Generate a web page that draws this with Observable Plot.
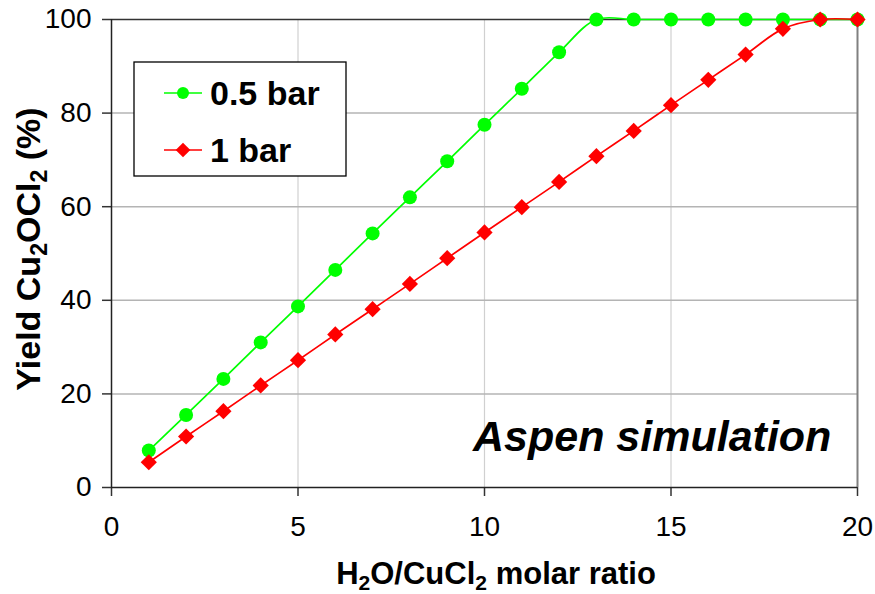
<!DOCTYPE html>
<html>
<head>
<meta charset="utf-8">
<script src="https://cdn.jsdelivr.net/npm/d3@7"></script>
<script src="https://cdn.jsdelivr.net/npm/@observablehq/plot@0.6"></script>
<style>
  body { margin: 0; background: #fff; }
  #chart svg { font-family: "Liberation Sans", Arial, sans-serif; display: block; }
</style>
</head>
<body>
<div id="chart"></div>
<script>
// H2O/CuCl2 molar ratio
const ratio = [1, 2, 3, 4, 5, 6, 7, 8, 9, 10, 11, 12, 13, 14, 15, 16, 17, 18, 19, 20];
// Cu2OCl2 yield (%) at 0.5 bar
const yieldHalfBar = [7.9, 15.5, 23.2, 31.0, 38.7, 46.5, 54.3, 62.0, 69.7, 77.5, 85.2, 93.0, 100, 100, 100, 100, 100, 100, 100, 100];
// Cu2OCl2 yield (%) at 1 bar
const yieldOneBar = [5.4, 10.9, 16.3, 21.8, 27.2, 32.7, 38.1, 43.5, 49.0, 54.5, 59.9, 65.3, 70.8, 76.2, 81.7, 87.1, 92.5, 98.0, 100, 100];

const seriesNames = ["0.5 bar", "1 bar"];
const seriesColors = ["#00ff00", "#ff0000"];
const seriesSymbols = ["circle", "diamond2"];
const xTicks = [0, 5, 10, 15, 20];
const yTicks = [0, 20, 40, 60, 80, 100];
const annotation = "Aspen simulation";

const half = ratio.map((r, i) => ({ratio: r, yield: yieldHalfBar[i]}));
const one = ratio.map((r, i) => ({ratio: r, yield: yieldOneBar[i]}));

const chart = Plot.plot({
  width: 875,
  height: 594,
  marginLeft: 111,
  marginRight: 18,
  marginTop: 19,
  marginBottom: 107,
  style: {fontFamily: "'Liberation Sans', Arial, sans-serif", fontSize: "28px", color: "#000", background: "#fff", overflow: "visible"},
  x: {domain: [0, 20], label: null},
  y: {domain: [0, 100], label: null},
  marks: [
    Plot.gridX(xTicks.slice(1, -1), {stroke: "#d0d0d0", strokeOpacity: 1, strokeWidth: 1.2}),
    Plot.gridY(yTicks.slice(1, -1), {stroke: "#b4b4b4", strokeOpacity: 1, strokeWidth: 1.5}),
    Plot.ruleY([100], {stroke: "#333", strokeWidth: 1.5}),
    Plot.ruleX([20], {stroke: "#808080", strokeWidth: 2}),
    Plot.axisX(xTicks, {tickSize: 9, tickPadding: 20, stroke: "#333", strokeWidth: 1.5, fontSize: 28, label: null}),
    Plot.axisY(yTicks, {tickSize: 9, tickPadding: 11, stroke: "#333", strokeWidth: 1.5, fontSize: 28, label: null}),
    Plot.ruleX([0], {stroke: "#222", strokeWidth: 1.5}),
    Plot.ruleY([0], {stroke: "#222", strokeWidth: 1.5}),
    Plot.text([annotation], {x: 19.3, y: 10.8, text: d => d, textAnchor: "end", lineAnchor: "middle",
      fontSize: 43, fontWeight: "bold", fontStyle: "italic", fill: "#000"}),
    Plot.line(half, {x: "ratio", y: "yield", stroke: seriesColors[0], strokeWidth: 1.7, curve: "catmull-rom"}),
    Plot.dot(half, {x: "ratio", y: "yield", r: 7, fill: seriesColors[0], symbol: seriesSymbols[0]}),
    Plot.line(one, {x: "ratio", y: "yield", stroke: seriesColors[1], strokeWidth: 1.7, curve: "catmull-rom"}),
    Plot.dot(one, {x: "ratio", y: "yield", r: 7.3, fill: seriesColors[1], symbol: seriesSymbols[1]})
  ]
});

document.getElementById("chart").append(chart);

const svg = d3.select(chart);
const xs = chart.scale("x"), ys = chart.scale("y");
const [x0, x1] = [xs.apply(0), xs.apply(20)];
const [y0, y1] = [ys.apply(0), ys.apply(100)];

// Text with subscript parts: [text, isSubscript]
function richText(sel, parts, size) {
  let shifted = false;
  for (const [t, sub] of parts) {
    const ts = sel.append("tspan").text(t);
    if (sub) {
      ts.attr("font-size", size * 0.68);
      if (!shifted) { ts.attr("dy", size * 0.2); shifted = true; }
    } else if (shifted) {
      ts.attr("dy", -size * 0.2); shifted = false;
    }
  }
}

// x-axis title
const xTitle = svg.append("text")
  .attr("x", (x0 + x1) / 2 + 12).attr("y", 584)
  .attr("text-anchor", "middle").attr("font-weight", "bold").attr("font-size", 31).attr("fill", "#000");
richText(xTitle, [["H", false], ["2", true], ["O/CuCl", false], ["2", true], [" molar ratio", false]], 31);

// y-axis title
const yTitle = svg.append("text")
  .attr("transform", `translate(40,${(y0 + y1) / 2 - 4}) rotate(-90)`)
  .attr("text-anchor", "middle").attr("font-weight", "bold").attr("font-size", 34).attr("fill", "#000");
richText(yTitle, [["Yield Cu", false], ["2", true], ["OCl", false], ["2", true], [" (%)", false]], 34);

// legend
const lg = svg.append("g");
lg.append("rect").attr("x", 134).attr("y", 62).attr("width", 212).attr("height", 114)
  .attr("fill", "#fff").attr("stroke", "#000").attr("stroke-width", 1.3);
const symbolTypes = {circle: d3.symbolCircle, diamond2: d3.symbolDiamond2};
const legendR = [6, 6.6];
seriesNames.forEach((name, i) => {
  const cy = 93 + i * 57;
  lg.append("line").attr("x1", 164).attr("x2", 202).attr("y1", cy).attr("y2", cy)
    .attr("stroke", seriesColors[i]).attr("stroke-width", 1.7);
  lg.append("path").attr("transform", `translate(183,${cy})`)
    .attr("d", d3.symbol(symbolTypes[seriesSymbols[i]], Math.PI * legendR[i] * legendR[i])())
    .attr("fill", seriesColors[i]);
  lg.append("text").attr("x", 210).attr("y", cy).attr("dy", "0.36em")
    .attr("text-anchor", "start")
    .attr("font-size", 34).attr("font-weight", "bold").attr("fill", "#000").text(name);
});
</script>
</body>
</html>
